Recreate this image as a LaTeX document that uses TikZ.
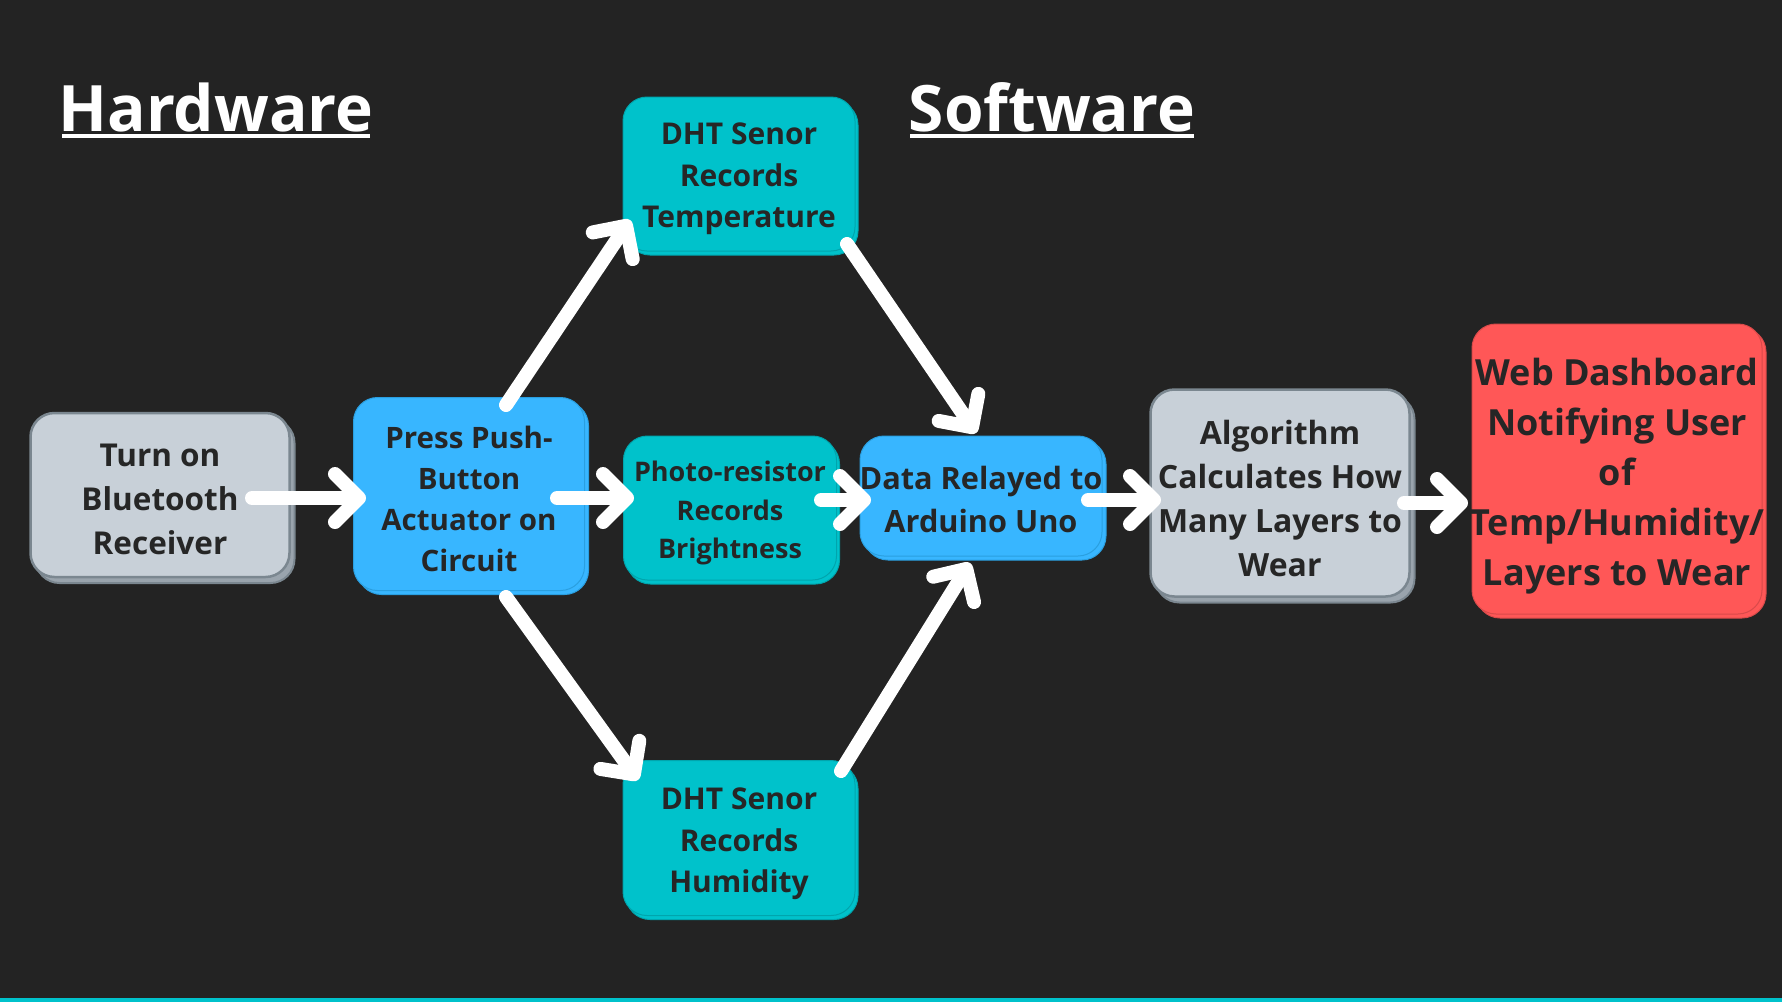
\documentclass[tikz,border=0pt]{standalone}
\usepackage{fontspec}
\setmainfont{Open Sans}
\usetikzlibrary{arrows.meta,shadows}
\definecolor{bg}{HTML}{232323}
\definecolor{txt}{HTML}{262626}
\definecolor{greyfill}{HTML}{C8D0D8}
\definecolor{greyline}{HTML}{7B8790}
\definecolor{greyshadow}{HTML}{9AA4AD}
\definecolor{bluefill}{HTML}{38B6FF}
\definecolor{blueline}{HTML}{2A9FE0}
\definecolor{cyanfill}{HTML}{00C2CB}
\definecolor{cyanline}{HTML}{00A5AD}
\definecolor{redfill}{HTML}{FF5757}
\definecolor{redline}{HTML}{D94A4A}
\begin{document}
\begin{tikzpicture}[x=1pt,y=-1pt,
  box/.style={rounded corners=24pt, inner sep=0pt},
  lbl/.style={inner sep=0pt, align=center, text=txt},
  greybox/.style={box, fill=greyfill, draw=greyline, line width=2.5pt,
    copy shadow={shadow xshift=5pt, shadow yshift=-6pt, fill=greyshadow, draw=greyline, line width=2pt}},
  bluebox/.style={box, fill=bluefill, draw=blueline, line width=1pt,
    copy shadow={shadow xshift=4pt, shadow yshift=-4pt, fill=bluefill, draw=blueline, line width=1pt}},
  cyanbox/.style={box, fill=cyanfill, draw=cyanline, line width=1pt,
    copy shadow={shadow xshift=3pt, shadow yshift=-4pt, fill=cyanfill, draw=cyanline, line width=1pt}},
  redbox/.style={box, fill=redfill, draw=redline, line width=1pt,
    copy shadow={shadow xshift=4pt, shadow yshift=-4pt, fill=redfill, draw=redline, line width=1pt}},
  arr/.style={draw=white, line width=14pt, line cap=round,
    -{Straight Barb[length=24pt, width=48pt, round]}},
  title/.style={text=white, font=\bfseries\fontsize{64}{70}\selectfont, inner sep=0pt}
]
\fill[bg] (0,0) rectangle (1782,1002);
\useasboundingbox (0,0) rectangle (1782,1002);
\fill[cyanfill] (0,998) rectangle (1782,1002);

% titles
\node[title] (hw) at (216,107) {Hardware};
\fill[white] (62,134) rectangle (370,138);
\node[title] (sw) at (1052,107) {Software};
\fill[white] (910,134) rectangle (1194,138);

% boxes
\node[greybox, minimum width=259pt, minimum height=164pt] (A) at (160,495) {};
\node[bluebox, minimum width=231pt, minimum height=193pt] (B) at (469,494) {};
\node[cyanbox, minimum width=232pt, minimum height=154pt] (C) at (739,174) {};
\node[cyanbox, minimum width=213pt, minimum height=144pt] (D) at (730,508) {};
\node[cyanbox, minimum width=232pt, minimum height=155pt] (E) at (739,838) {};
\node[bluebox, minimum width=242pt, minimum height=120pt] (F) at (981,496) {};
\node[greybox, minimum width=259pt, minimum height=207pt] (G) at (1280,493) {};
\node[redbox, minimum width=290pt, minimum height=290pt] (H) at (1617,469) {};

% texts
\node[lbl, font=\bfseries\fontsize{31.5}{44}\selectfont] (At) at ([yshift=-4pt]A.center) {Turn on\\Bluetooth\\Receiver};
\node[lbl, font=\bfseries\fontsize{29.5}{41}\selectfont] (Bt) at ([yshift=-5pt]B.center) {Press Push-\\Button\\Actuator on\\Circuit};
\node[lbl, font=\bfseries\fontsize{30}{41.5}\selectfont] (Ct) at ([yshift=-5pt]C.center) {DHT Senor\\Records\\Temperature};
\node[lbl, font=\bfseries\fontsize{27}{38.6}\selectfont] (Dt) at ([yshift=-5pt]D.center) {Photo-resistor\\Records\\Brightness};
\node[lbl, font=\bfseries\fontsize{30}{41.5}\selectfont] (Et) at ([yshift=-6pt]E.center) {DHT Senor\\Records\\Humidity};
\node[lbl, font=\bfseries\fontsize{30.7}{43}\selectfont] (Ft) at ([yshift=-3pt]F.center) {Data Relayed to\\Arduino Uno};
\node[lbl, font=\bfseries\fontsize{32}{44}\selectfont] (Gt) at ([yshift=-5pt]G.center) {Algorithm\\Calculates How\\Many Layers to\\Wear};
\node[lbl, font=\bfseries\fontsize{36}{50}\selectfont] (Ht) at ([yshift=-7pt]H.center) {Web Dashboard\\Notifying User\\of\\Temp/Humidity/\\Layers to Wear};

% arrow end points
\coordinate (a1) at (252,498); \coordinate (b1) at (366,498);
\coordinate (a2) at (506,405); \coordinate (b2) at (630,220);
\coordinate (a3) at (557,498); \coordinate (b3) at (634,498);
\coordinate (a4) at (506,597); \coordinate (b4) at (638,780);
\coordinate (a5) at (847,244); \coordinate (b5) at (976,433);
\coordinate (a6) at (821,500); \coordinate (b6) at (871,500);
\coordinate (a7) at (841,771); \coordinate (b7) at (970,563);
\coordinate (a8) at (1088,500); \coordinate (b8) at (1161,500);
\coordinate (a9) at (1404,503); \coordinate (b9) at (1468,503);

\foreach \i in {1,...,9} \draw[arr] (a\i) -- (b\i);
\end{tikzpicture}
\end{document}
